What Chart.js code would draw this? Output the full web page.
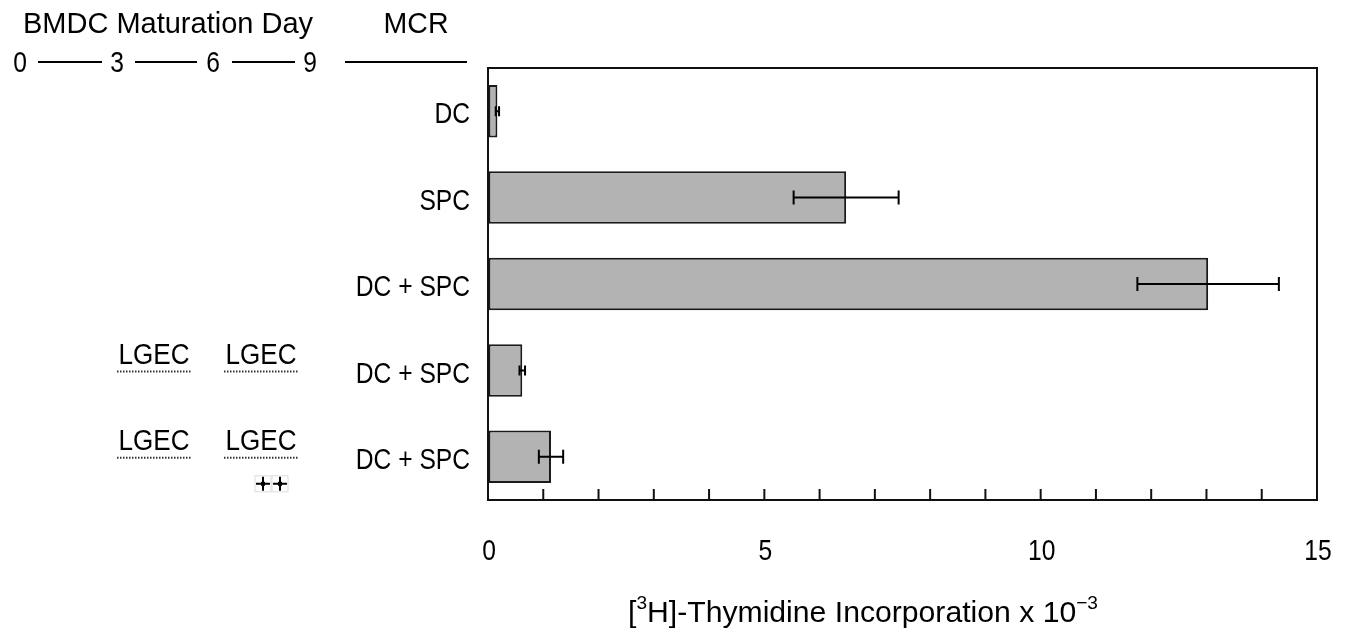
<!DOCTYPE html>
<html>
<head>
<meta charset="utf-8">
<script src="https://cdn.jsdelivr.net/npm/chart.js@4"></script>
<style>
  html, body { margin: 0; background: #fff; }
  #wrap { width: 1354px; height: 639px; }
</style>
</head>
<body>
<div id="wrap"><canvas class="chart"></canvas></div>
<script>
// values (x 10^3 cpm)
const categories = ['DC', 'SPC', 'DC + SPC', 'DC + SPC', 'DC + SPC'];
const means = [0.17, 6.48, 13.03, 0.62, 1.14];
const errors = [0.03, 0.95, 1.28, 0.05, 0.22];
const tickLabels = ['0', '5', '10', '15'];
const dayLabels = ['0', '3', '6', '9'];
// LGEC exposure per row (day 3-6 and day 6-9), and the row with the "++" marker
const lgecRows = [[], [], [], ['LGEC', 'LGEC'], ['LGEC', 'LGEC']];
const plusRows = [false, false, false, false, true];

const FONT = '"Liberation Sans", Arial, sans-serif';
const SQUEEZE = 0.82; // the figure uses a condensed face

// draw text squeezed horizontally (to a width, or by SQUEEZE)
function fitText(ctx, txt, x, y, size, width, align) {
  ctx.save();
  ctx.font = size + 'px ' + FONT;
  const w = ctx.measureText(txt).width;
  const sx = width ? width / w : SQUEEZE;
  let left = x;
  if (align === 'center') left = x - (w * sx) / 2;
  if (align === 'right') left = x - w * sx;
  ctx.translate(left, y);
  ctx.scale(sx, 1);
  ctx.textAlign = 'left';
  ctx.textBaseline = 'middle';
  ctx.fillStyle = '#000';
  ctx.fillText(txt, 0, 0);
  ctx.restore();
}

const decor = {
  id: 'decor',
  afterDraw(chart) {
    const ctx = chart.ctx;
    const area = chart.chartArea;
    const xs = chart.scales.x;
    const ys = chart.scales.y;

    ctx.save();
    ctx.strokeStyle = '#111';
    ctx.lineWidth = 2;
    ctx.strokeRect(area.left, area.top, area.right - area.left, area.bottom - area.top);

    // inward minor ticks + tick labels
    xs.ticks.forEach(t => {
      const px = xs.getPixelForValue(t.value);
      if (t.value > 0 && t.value < 15) {
        ctx.beginPath();
        ctx.moveTo(px, area.bottom);
        ctx.lineTo(px, area.bottom - 11);
        ctx.stroke();
      }
      if (t.label) fitText(ctx, String(t.label), px + 1, area.bottom + 52, 30, 0, 'center');
    });
    ys.ticks.forEach((t, i) => {
      fitText(ctx, categories[i], area.left - 18, ys.getPixelForTick(i) + 4, 30, 0, 'right');
    });

    // error bars
    ctx.strokeStyle = '#000';
    means.forEach((m, i) => {
      const py = ys.getPixelForValue(i);
      const x1 = xs.getPixelForValue(m - errors[i]);
      const x2 = xs.getPixelForValue(m + errors[i]);
      const cap = errors[i] < 0.1 ? 5 : 7;
      ctx.beginPath();
      ctx.moveTo(x1, py); ctx.lineTo(x2, py);
      ctx.moveTo(x1, py - cap); ctx.lineTo(x1, py + cap);
      ctx.moveTo(x2, py - cap); ctx.lineTo(x2, py + cap);
      ctx.stroke();
    });

    // header
    fitText(ctx, 'BMDC Maturation Day', 168, 25, 30, 290, 'center');
    fitText(ctx, 'MCR', 416, 25, 30, 65, 'center');
    const dayX = [20, 117, 213, 310];
    dayLabels.forEach((d, i) => fitText(ctx, d, dayX[i], 64, 30, 0, 'center'));
    ctx.lineWidth = 2;
    [[38, 102], [135, 197], [232, 295], [345, 467]].forEach(([a, b]) => {
      ctx.beginPath(); ctx.moveTo(a, 62); ctx.lineTo(b, 62); ctx.stroke();
    });

    // LGEC treatments
    const colX = [154, 261];
    lgecRows.forEach((row, i) => {
      const cy = ys.getPixelForValue(i) - 15;
      row.forEach((lbl, j) => {
        fitText(ctx, lbl, colX[j], cy, 30, 71, 'center');
        ctx.save();
        ctx.setLineDash([1.5, 1.5]);
        ctx.lineWidth = 2;
        ctx.strokeStyle = '#333';
        ctx.beginPath();
        ctx.moveTo(colX[j] - 37, cy + 16);
        ctx.lineTo(colX[j] + 37, cy + 16);
        ctx.stroke();
        ctx.restore();
      });
      if (plusRows[i]) {
        [263, 280].forEach(px => {
          const py = cy + 42;
          ctx.save();
          ctx.strokeStyle = '#ddd';
          ctx.lineWidth = 1;
          ctx.strokeRect(px - 8, py - 8, 16, 16);
          ctx.strokeStyle = '#000';
          ctx.lineWidth = 2;
          ctx.beginPath();
          ctx.moveTo(px - 7, py); ctx.lineTo(px + 7, py);
          ctx.moveTo(px, py - 7); ctx.lineTo(px, py + 7);
          ctx.stroke();
          ctx.fillRect(px - 2, py - 2, 4, 4);
          ctx.restore();
        });
      }
    });

    // x axis title with superscripts
    const ty = 614;
    const parts = [
      ['[', 30, 0], ['3', 19, -10], ['H]-Thymidine Incorporation x 10', 30, 0], ['\u22123', 19, -10]
    ];
    let total = 0;
    parts.forEach(p => { ctx.font = p[1] + 'px ' + FONT; total += ctx.measureText(p[0]).width; });
    const sx = 470 / total;
    let cx = 628;
    parts.forEach(p => {
      ctx.font = p[1] + 'px ' + FONT;
      const w = ctx.measureText(p[0]).width * sx;
      fitText(ctx, p[0], cx, ty + p[2], p[1], w, 'left');
      cx += w;
    });
    ctx.restore();
  }
};

new Chart(document.querySelector('.chart'), {
  type: 'bar',
  data: {
    labels: categories,
    datasets: [{
      label: 'Thymidine',
      data: means,
      backgroundColor: '#b3b3b3',
      borderColor: '#1a1a1a',
      borderWidth: 2,
      borderSkipped: false,
      barPercentage: 0.76,
      categoryPercentage: 0.8
    }]
  },
  options: {
    indexAxis: 'y',
    responsive: true,
    maintainAspectRatio: false,
    animation: false,
    layout: { padding: { top: 68, right: 37, left: 0, bottom: 0 } },
    plugins: {
      legend: { display: false },
      tooltip: { enabled: false }
    },
    scales: {
      x: {
        min: 0,
        max: 15,
        border: { display: false },
        grid: { drawOnChartArea: false, drawTicks: false },
        ticks: {
          stepSize: 1,
          autoSkip: false,
          maxRotation: 0,
          padding: 38,
          color: 'rgba(0,0,0,0)',
          font: { size: 28, family: FONT },
          callback: v => tickLabels.includes(String(v)) ? String(v) : ''
        },
        afterFit: s => { s.height = 139; s.paddingLeft = 0; s.paddingRight = 0; }
      },
      y: {
        border: { display: false },
        grid: { display: false, drawTicks: false },
        ticks: {
          padding: 18,
          color: 'rgba(0,0,0,0)',
          font: { size: 28, family: FONT }
        },
        afterFit: s => { s.width = 488; s.paddingTop = 0; s.paddingBottom = 0; }
      }
    }
  },
  plugins: [decor]
});
</script>
</body>
</html>
